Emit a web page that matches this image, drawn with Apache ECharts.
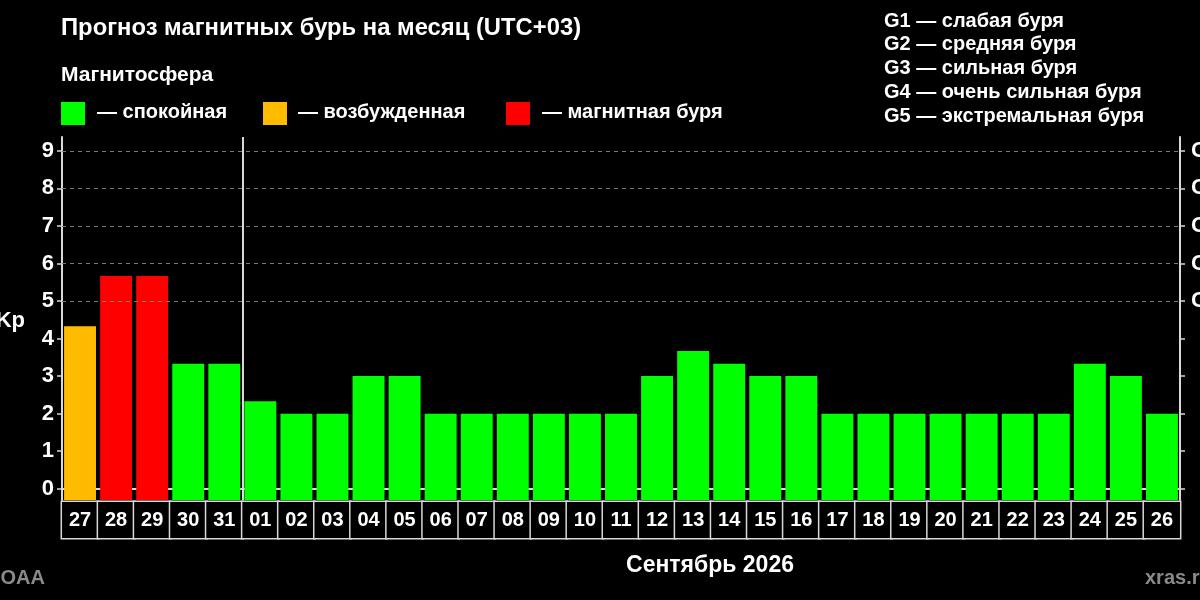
<!DOCTYPE html>
<html><head><meta charset="utf-8">
<script src="https://cdn.jsdelivr.net/npm/echarts@6/dist/echarts.min.js"></script>
<style>html,body{margin:0;padding:0;background:#000}#c{width:1200px;height:600px}</style>
</head><body><div id="c"></div>
<script>
const days = ['27','28','29','30','31','01','02','03','04','05','06','07','08','09','10','11','12','13','14','15','16','17','18','19','20','21','22','23','24','25','26'];
const kp = [4.33,5.67,5.67,3.33,3.33,2.33,2,2,3,3,2,2,2,2,2,2,3,3.67,3.33,3,3,2,2,2,2,2,2,2,3.33,3,2];
const yTicks = [0,1,2,3,4,5,6,7,8,9];
const gLevels = [5,6,7,8,9];
const gNames = ['G1','G2','G3','G4','G5'];
const gLegend = ['G1 — слабая буря','G2 — средняя буря','G3 — сильная буря','G4 — очень сильная буря','G5 — экстремальная буря'];
const stateLegend = ['— спокойная','— возбужденная','— магнитная буря'];
const splitDay = '01';

const GREEN = '#00ff00', ORANGE = '#ffbb00', RED = '#ff0000';
function colorFor(v){ return v >= 5 ? RED : (v >= 4 ? ORANGE : GREEN); }
const FONT = '"Liberation Sans", Arial, sans-serif';

const chart = echarts.init(document.getElementById('c'), null, {renderer:'canvas'});
const lineC = '#d8d8d8';

const textEl = (x,y,txt,size,opts={}) => ({type:'text', x, y, style:{text:txt, fill:opts.fill||'#fff', font:`bold ${size}px ${FONT}`, textAlign:opts.align||'left', textVerticalAlign:'middle'}});

const graphics = [
  textEl(61,28,'Прогноз магнитных бурь на месяц (UTC+03)',23.8),
  textEl(61,75,'Магнитосфера',21),
  {type:'rect', shape:{x:61,y:102,width:24,height:23}, style:{fill:GREEN}},
  {type:'rect', shape:{x:263,y:102,width:24,height:23}, style:{fill:ORANGE}},
  {type:'rect', shape:{x:506,y:102,width:24,height:23}, style:{fill:RED}},
  textEl(97,112,stateLegend[0],20),
  textEl(298,112,stateLegend[1],20),
  textEl(542,112,stateLegend[2],20),
  textEl(25,321,'Kp',22,{align:'right'}),
  textEl(710,566,'Сентябрь 2026',23,{align:'center'}),
  textEl(45,578,'NOAA',20,{align:'right', fill:'#8a8a8a'}),
  textEl(1145,578,'xras.ru',20,{fill:'#8a8a8a'})
];
gLegend.forEach((t,i)=>graphics.push(textEl(884, 21 + i*23.9, t, 20)));

const option = {
  backgroundColor:'#000',
  animation:false,
  textStyle:{fontFamily:FONT},
  graphic: graphics,
  grid:{left:62, right:20, top:137, bottom:100, outerBoundsMode:'none', containLabel:false},
  xAxis:[{
    type:'category', data: days, boundaryGap:true,
    axisLine:{show:false}, axisTick:{show:false},
    axisLabel:{interval:0, color:'#fff', fontWeight:'bold', fontSize:20, fontFamily:FONT,
      width:36, height:36, lineHeight:36, align:'center', verticalAlign:'top',
      borderColor:lineC, borderWidth:1.5, backgroundColor:'#000', margin:2, padding:0},
    splitLine:{show:false}
  },{
    type:'category', data: days, position:'top', boundaryGap:true,
    axisLine:{show:true, lineStyle:{color:lineC, width:2}}, axisTick:{show:false}, axisLabel:{show:false}, splitLine:{show:false}
  },{
    type:'value', min:0, max:days.length, show:false
  }],
  yAxis:[{
    type:'value', min:-0.3, max:9.37, position:'left',
    axisLine:{show:true, lineStyle:{color:lineC, width:2}},
    axisTick:{show:true, length:5, lineStyle:{color:lineC, width:1.5}, customValues: yTicks},
    axisLabel:{color:'#fff', fontWeight:'bold', fontSize:22, fontFamily:FONT, margin:8, customValues: yTicks},
    splitLine:{show:false}
  },{
    type:'value', min:-0.3, max:9.37, position:'right',
    axisLine:{show:true, lineStyle:{color:lineC, width:2}},
    axisTick:{show:true, length:5, lineStyle:{color:lineC, width:1.5}, customValues: yTicks},
    axisLabel:{color:'#fff', fontWeight:'bold', fontSize:22, fontFamily:FONT, margin:11, customValues: gLevels,
      formatter: v => gNames[gLevels.indexOf(v)] || ''},
    splitLine:{show:false}
  }],
  series:[{
    type:'custom',
    xAxisIndex:0, yAxisIndex:0,
    data: kp.map((v,i)=>[i,v]),
    renderItem:(params, api)=>{
      const i = api.value(0), v = api.value(1);
      const top = api.coord([i, v]);
      const bw = api.size([1,0])[0] * 0.885;
      const cs = params.coordSys;
      return {type:'rect', shape:{x: top[0]-bw/2, y: top[1], width: bw, height: cs.y + cs.height - top[1]},
        style:{fill: colorFor(v)}};
    },
    z:3
  },{
    type:'line', data:[], xAxisIndex:0, yAxisIndex:0,
    markLine:{silent:true, symbol:['none','none'], label:{show:false},
      lineStyle:{color:'#7a7a7a', width:1, type:[4,4]},
      data: gLevels.map(g=>({yAxis:g}))},
    z:1
  },{
    type:'line', data:[], xAxisIndex:2, yAxisIndex:0,
    markLine:{silent:true, symbol:['none','none'], label:{show:false},
      lineStyle:{color:lineC, width:2, type:'solid'},
      data:[{xAxis: days.indexOf(splitDay)}]},
    z:4
  }]
};
chart.setOption(option);
</script></body></html>
